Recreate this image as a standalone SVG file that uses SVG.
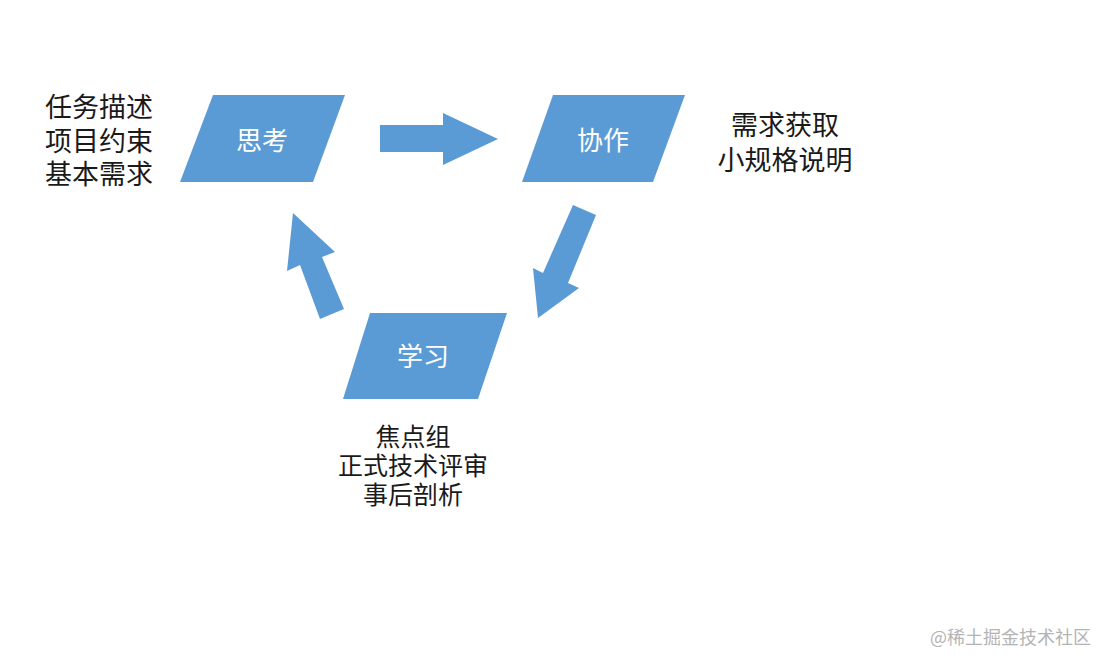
<svg xmlns="http://www.w3.org/2000/svg" width="1108" height="668" viewBox="0 0 1108 668">
<style>
.shape{fill:#5b9bd5}
.arrow{fill:#5b9bd5}
.lbl{font-family:"Noto Sans CJK SC","Noto Sans",sans-serif;font-size:26px;fill:#ffffff;text-anchor:middle;dominant-baseline:central}
.note{font-family:"Noto Sans CJK SC","Noto Sans",sans-serif;fill:#1a1a1a;dominant-baseline:central}
.wm{font-family:"Noto Sans CJK SC","Noto Sans",sans-serif;font-size:18px;fill:#b4b4b4;dominant-baseline:central}
</style>
<rect width="1108" height="668" fill="#ffffff"/>
<g id="think">
<polygon class="shape" points="213,95 345,95 313,182 180,182"/>
<text class="lbl" x="262" y="138">思考</text>
</g>
<g id="collab">
<polygon class="shape" points="553,95 685,95 653,182 522,182"/>
<text class="lbl" x="603" y="138">协作</text>
</g>
<g id="learn">
<polygon class="shape" points="370,313 507,313 478,399 343,399"/>
<text class="lbl" x="423" y="354">学习</text>
</g>
<g id="connectors">
<polygon class="arrow" points="380,125 443,125 443,113 498,139 443,165 443,152 380,152"/>
<polygon class="arrow" points="573,205 596,215 568,283 579,288 538,318 533,268 543,273"/>
<polygon class="arrow" points="344,309 320,319 300,265 287,271 293,213 335,252 322,257"/>
</g>
<g id="notes">
<text class="note" font-size="27"><tspan x="45" y="105">任务描述</tspan><tspan x="45" y="139">项目约束</tspan><tspan x="45" y="172">基本需求</tspan></text>
<text class="note" font-size="27" text-anchor="middle"><tspan x="785" y="123">需求获取</tspan><tspan x="785" y="158">小规格说明</tspan></text>
<text class="note" font-size="25" text-anchor="middle"><tspan x="413" y="435">焦点组</tspan><tspan x="413" y="464">正式技术评审</tspan><tspan x="413" y="493">事后剖析</tspan></text>
</g>
<text class="wm" x="930" y="636">@稀土掘金技术社区</text>
</svg>
